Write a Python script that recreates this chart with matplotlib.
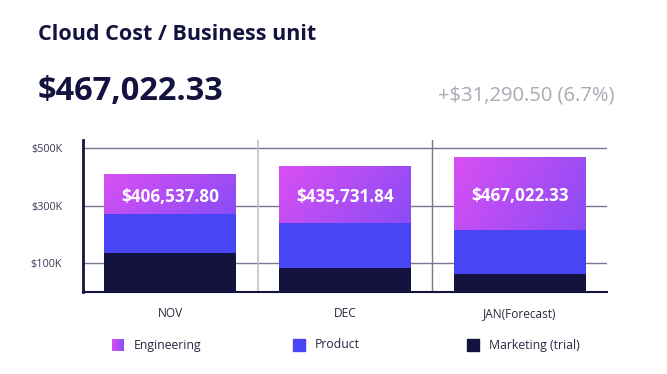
import numpy as np
import matplotlib
matplotlib.use("Agg")
import matplotlib.pyplot as plt
from matplotlib.colors import LinearSegmentedColormap
from matplotlib.patches import Rectangle

plt.rcParams['font.family'] = ['Open Sans', 'DejaVu Sans']

months = ["NOV", "DEC", "JAN(Forecast)"]
totals = [406537.80, 435731.84, 467022.33]
marketing = [137000, 85000, 63000]
product = [133000, 154000, 153000]
engineering = [t - m - p for t, m, p in zip(totals, marketing, product)]
yticks = [100000, 300000, 500000]
ytick_labels = ["$100K", "$300K", "$500K"]
legend_names = ["Engineering", "Product", "Marketing (trial)"]
headline = "$467,022.33"
change = "+$31,290.50 (6.7%)"

navy = "#14133f"
blue = "#4845f5"
grad = LinearSegmentedColormap.from_list("eng", ["#d94ff3", "#8a4cf6"])

fig = plt.figure(figsize=(6.67, 3.74), dpi=100)
ax = fig.add_axes([83/667, 1-292/374, 524/667, 152/374])

x = np.arange(len(months))
w = 0.755
ax.bar(x, marketing, w, color=navy, zorder=3)
ax.bar(x, product, w, bottom=marketing, color=blue, zorder=3)

# gradient fill for engineering segment
u = np.linspace(0, 1, 200)[None, :]
v = np.linspace(1, 0, 100)[:, None]
t = 0.75 * u + 0.25 * (1 - v)
for i in range(len(months)):
    b = marketing[i] + product[i]
    ax.imshow(t, cmap=grad, extent=(x[i]-w/2, x[i]+w/2, b, b+engineering[i]),
              aspect='auto', zorder=3, interpolation='bilinear')
    ax.text(x[i], b + engineering[i]/2 - 9000, "${:,.2f}".format(totals[i]),
            ha='center', va='center', color='white', fontsize=12.3,
            fontweight='bold', zorder=5)

ax.set_xlim(-0.5, 2.5)
ax.set_ylim(0, 528000)
ax.set_yticks(yticks)
ax.set_yticklabels(ytick_labels)
ax.set_xticks(x)
ax.set_xticklabels(months)
ax.tick_params(axis='y', length=0, pad=15, labelsize=7.8, labelcolor="#3d3b55")
ax.tick_params(axis='x', length=0, pad=11, labelsize=8.6, labelcolor="#2a2840")
for yv in yticks:
    ax.axhline(yv, color="#7b7590", lw=1, zorder=1)
ax.axvline(0.5, color="#c4c0d0", lw=1.2, zorder=1)
ax.axvline(1.5, color="#7b7590", lw=1, zorder=1)
for s in ["top", "right"]:
    ax.spines[s].set_visible(False)
ax.spines["left"].set_color(navy)
ax.spines["left"].set_linewidth(2)
ax.spines["bottom"].set_color(navy)
ax.spines["bottom"].set_linewidth(1.5)

fig.text(38/667, 1-34/374, "Cloud Cost / Business unit", fontsize=15.5,
         fontweight='bold', color=navy, va='center')
fig.text(38/667, 1-92/374, headline, fontsize=23.5, fontweight='bold',
         color=navy, va='center')
fig.text(615/667, 1-96/374, change, fontsize=14.5, color="#a9a9b3",
         va='center', ha='right')

# legend
leg_x = [112, 293, 467]
sq = 12
for i, name in enumerate(legend_names):
    x0 = leg_x[i]
    if i == 0:
        lax = fig.add_axes([x0/667, 1-(345+sq/2)/374, sq/667, sq/374])
        lax.imshow(u * np.ones((10, 1)), cmap=grad, aspect='auto')
        lax.axis('off')
    else:
        fig.patches.append(Rectangle((x0/667, 1-(345+sq/2)/374), sq/667, sq/374,
                                     transform=fig.transFigure,
                                     color=[blue, navy][i-1], figure=fig))
    fig.text((x0+22)/667, 1-345/374, name, fontsize=8.8, color="#2a2840",
             va='center')

fig.savefig("out.png", dpi=100)
